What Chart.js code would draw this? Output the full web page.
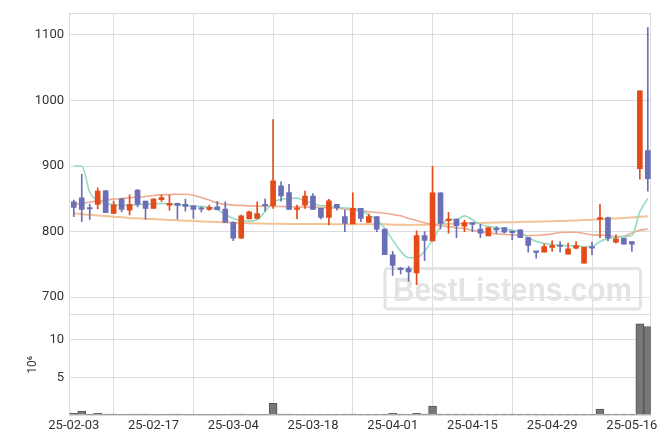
<!DOCTYPE html>
<html><head><meta charset="utf-8">
<script src="https://cdn.jsdelivr.net/npm/chart.js@4/dist/chart.umd.min.js"></script>
<style>html,body{margin:0;padding:0;background:#fff;}#wrap{position:relative;width:670px;height:444px;}</style>
</head><body><div id="wrap"><canvas id="c" width="670" height="444"></canvas></div>
<script>
const dates = [
 '25-02-03','25-02-04','25-02-05','25-02-06','25-02-07','25-02-10','25-02-11','25-02-12','25-02-13','25-02-14',
 '25-02-17','25-02-18','25-02-19','25-02-20','25-02-21','25-02-24','25-02-25','25-02-26','25-02-27','25-02-28',
 '25-03-04','25-03-05','25-03-06','25-03-07','25-03-10','25-03-11','25-03-12','25-03-13','25-03-14','25-03-17',
 '25-03-18','25-03-19','25-03-20','25-03-21','25-03-24','25-03-25','25-03-26','25-03-27','25-03-28','25-03-31',
 '25-04-01','25-04-02','25-04-03','25-04-04','25-04-07','25-04-08','25-04-09','25-04-10','25-04-11','25-04-14',
 '25-04-15','25-04-16','25-04-17','25-04-18','25-04-21','25-04-22','25-04-23','25-04-24','25-04-25','25-04-28',
 '25-04-29','25-04-30','25-05-02','25-05-07','25-05-08','25-05-09','25-05-12','25-05-13','25-05-14','25-05-15',
 '25-05-16','25-05-19','25-05-20'];
const openP = [845.5,851.5,835,841.4,862,827.8,850,832.5,863.3,846.5,
 835.3,848.8,840.4,842.9,841.4,839.4,834.8,833.8,837.7,834.3,
 814.1,789.9,819.2,820.2,840,839.4,869.7,859.6,833.8,840.4,
 854,835.4,821.7,841.4,822.7,811.6,835.4,814.1,822.7,804,
 764.6,742.4,743.4,736.9,793.9,785.9,859.1,816.7,819.2,808.1,
 813.6,804,793.4,805,806.1,800,802.5,790.9,769.2,768.7,
 775.8,778,765.7,774.7,752,775.8,818.7,821.2,783.8,789.9,
 784.8,896,923.7];
const highP = [848,887.4,842,866.7,863,846.5,850.5,856,864,846.5,
 850.5,856,855.6,843.5,849.5,839.4,837.9,840.4,846,845.5,
 815,825.3,831.3,845.5,849.5,970.7,875.8,872.2,840.4,861.6,
 858.1,835.4,849,841.4,832.8,859.1,835.4,826.8,822.7,804,
 769.7,745.5,747,801,800,899.5,859.1,829.3,819.2,817.7,
 813.6,811.1,806.1,807.6,806.1,801,802.5,790.9,769.7,780.8,
 785.9,784.8,782.3,784.8,775.8,783.8,841.4,822.2,795,789.9,
 784.8,1014.6,1111];
const lowP = [822.7,815,818.6,834.4,828.8,827.8,830,825.3,837.5,818.8,
 835.3,846,832.8,819,831.3,820,830,832.3,833.3,814.1,
 786,789.5,819.2,819.2,831,835.4,846.5,833.8,819.2,835.4,
 833.8,819.2,810.1,832.8,800,811.6,815.2,814.1,800,764.6,
 733.3,735.4,724.2,719.2,755.6,785.9,804,797.5,790.9,800,
 800,790.9,793.4,797.5,797.5,787.4,790.9,768.7,759.6,768.7,
 769.7,768.7,765.7,773.7,752,764.6,790.9,785.9,782.3,780.8,
 769.7,879.8,861.6];
const closeP = [836.9,833.8,834.4,861.7,829,840.9,833.8,841.6,841.6,835.3,
 849.5,851.8,842.9,839.9,838.4,833.8,834,836.9,833.3,814.1,
 789.9,824.2,830.3,827.3,839.4,877.3,854.5,833.8,836.4,854,
 833.8,821.7,847,836.4,812.6,835.4,820.2,822.7,803.5,764.6,
 748.5,741.9,738.4,793.9,786.4,859.1,812.6,819.2,809.1,813.6,
 811.1,797.5,806.1,802.5,799,798.5,790.9,778.8,768.2,777.3,
 778.8,777.3,773.7,778.8,775.8,774.7,821.2,789.9,788.9,780.8,
 780.8,1014.6,880.8];
const volumeM = [0.22,0.53,0.12,0.22,0.12,0.12,0.02,0.12,0.12,0.12,
 0.02,0.02,0.12,0.12,0.02,0.02,0.02,0.02,0.02,0.02,
 0.12,0.12,0.02,0.02,0.02,1.55,0.12,0.12,0.02,0.02,
 0.02,0.02,0.02,0.02,0.12,0.12,0.02,0.02,0.02,0.12,
 0.22,0.12,0.02,0.22,0.12,1.19,0.12,0.12,0.12,0.12,
 0.12,0.12,0.02,0.02,0.12,0.12,0.02,0.12,0.02,0.02,
 0.02,0.02,0.02,0.02,0.02,0.02,0.8,0.12,0.02,0.12,
 0.02,12.16,11.8];
const maShort = [900,900,860,847,843,841,840,840,841,842,
 842,843,842,841,840,839,838,837,833.5,826,
 820,817,816,818,831,845,849,850.5,851,847,
 843,839.5,839,837,836,835,833,825,818,805,
 787,770,760,760,770,787,807,819,818,824,
 818,811,808,806,804,802,799,791,785,782,
 780,779,778.5,778,777.3,776.8,784.8,789,791,792.4,
 794,830,850.5];
const maMid = [841.5,843,845,846.5,848,849.5,850.5,851.5,852.5,853.5,
 855,856,856.5,857,857,855.5,852,848,843.5,841.5,
 840.4,839.8,839.2,838.8,838.6,838.4,838.2,838,837.7,837.5,
 837.2,836.9,836.3,835.5,834.5,833,831.5,830.3,829,828,
 826,824,820,817,813.5,811,809,807.5,806,804.5,
 802,800,798,796.5,795.5,795,794.5,794,794,795,
 796.5,798.5,799,799,797,795,794.5,794,792.5,793,
 798,802,804];
const maLong = [828,826.5,825.5,824.5,823.7,822.8,821.8,820.8,820.2,819.6,
 819,818.4,817.8,817.2,816.6,816,815.5,815,814.5,814,
 813.5,813.1,812.8,812.5,812.2,812,811.8,811.6,811.6,811.6,
 811.5,811.5,811.4,811.3,811.2,811.1,811.1,811,811,811,
 810.6,810.3,810.1,810.3,810.6,811,811.3,811.7,812.1,812.5,
 812.9,813.2,813.5,813.8,814.1,814.4,814.7,815,815.2,815.5,
 815.8,816.2,816.6,817,817.5,818,818.7,819.3,820,820.7,
 821.5,822.5,823.5];
const tickIndex = [0,10,20,30,40,50,60,70];
const priceTicks = [700,800,900,1000,1100];
const volumeTicks = [0,5,10];
const volumeTitle = '10\u2076';
const watermark = 'BestListens.com';

const UP = '#e64a19', DOWN = '#6b6fb5', GRID = '#dcdcdc', TXT = '#333333';
const idx = dates.map((d, i) => i);
const isUp = i => closeP[i] >= openP[i];
const font = {family: 'Roboto', size: 13};

const framePlugin = {
  id: 'frame',
  beforeDatasetsDraw(chart) {
    const ctx = chart.ctx, a = chart.chartArea;
    const yP = chart.scales.yPrice;
    ctx.save();
    ctx.strokeStyle = '#e4e4e4'; ctx.lineWidth = 3;
    ctx.beginPath();
    ctx.roundRect(385, 268.5, 255.5, 40.5, 3);
    ctx.stroke();
    ctx.font = 'bold 34px "Liberation Sans"';
    const w = ctx.measureText(watermark).width;
    ctx.fillStyle = '#e4e4e4';
    ctx.textBaseline = 'alphabetic';
    ctx.translate(393, 300.5);
    ctx.scale(239 / w, 1);
    ctx.fillText(watermark, 0, 0);
    ctx.restore();
    ctx.save();
    ctx.strokeStyle = GRID; ctx.lineWidth = 1;
    ctx.strokeRect(Math.round(a.left) + 0.5, Math.round(a.top) + 0.5, Math.round(a.right - a.left) - 1, Math.round(a.bottom - a.top) - 1);
    ctx.beginPath();
    ctx.moveTo(a.left, Math.round(yP.bottom) + 0.5);
    ctx.lineTo(a.right, Math.round(yP.bottom) + 0.5);
    ctx.stroke();
    ctx.restore();
  }
};

new Chart(document.getElementById('c'), {
  type: 'bar',
  data: {
    datasets: [
      { type: 'bar', label: 'body', yAxisID: 'yPrice', grouped: false,
        data: idx.map(i => ({x: i, y: [openP[i], closeP[i]]})),
        backgroundColor: c => isUp(c.dataIndex) ? UP : DOWN,
        barThickness: 5, minBarLength: 1.5, borderWidth: 0 },
      { type: 'bar', label: 'wick', yAxisID: 'yPrice', grouped: false,
        data: idx.map(i => ({x: i, y: [lowP[i], highP[i]]})),
        backgroundColor: c => isUp(c.dataIndex) ? UP : DOWN,
        barThickness: 1, borderWidth: 0 },
      { type: 'line', label: 'MA short', yAxisID: 'yPrice',
        data: idx.map(i => ({x: i, y: maShort[i]})),
        borderColor: '#95dbc2', borderWidth: 1.6, pointRadius: 0, cubicInterpolationMode: 'monotone' },
      { type: 'line', label: 'MA mid', yAxisID: 'yPrice',
        data: idx.map(i => ({x: i, y: maMid[i]})),
        borderColor: '#efab92', borderWidth: 1.6, pointRadius: 0, cubicInterpolationMode: 'monotone' },
      { type: 'line', label: 'MA long', yAxisID: 'yPrice',
        data: idx.map(i => ({x: i, y: maLong[i]})),
        borderColor: '#f1c396', borderWidth: 2, pointRadius: 0, cubicInterpolationMode: 'monotone' },
      { type: 'bar', label: 'volume', yAxisID: 'yVol', grouped: false,
        data: idx.map(i => ({x: i, y: volumeM[i]})),
        backgroundColor: '#777777', borderColor: '#555555', borderWidth: 1,
        barPercentage: 1, categoryPercentage: 1 }
    ]
  },
  options: {
    responsive: false, animation: false, devicePixelRatio: 1,
    layout: {padding: {left: 5, top: 9, right: 19, bottom: 0}},
    plugins: {legend: {display: false}, tooltip: {enabled: false}},
    scales: {
      x: { type: 'linear', min: -0.6, max: 72.4, offset: false,
        grid: {color: GRID, drawTicks: false}, border: {display: false},
        afterBuildTicks: s => { s.ticks = tickIndex.map(v => ({value: v})); },
        afterFit: s => { s.height = 29; },
        ticks: {autoSkip: false, maxRotation: 0, padding: 3, font, color: TXT,
          callback: v => dates[v] } },
      yVol: { type: 'linear', position: 'left', stack: 'main', stackWeight: 1,
        min: 0, max: 13.4,
        grid: {color: GRID, drawTicks: false}, border: {display: false},
        afterBuildTicks: s => { s.ticks = volumeTicks.map(v => ({value: v})); },
        afterFit: s => { s.width = 64; },
        title: {display: true, text: volumeTitle, font: {family: 'Roboto', size: 12}, color: TXT, padding: {top: 21, bottom: 0}},
        ticks: {autoSkip: false, padding: 5, font, color: TXT, callback: v => v === 0 ? '' : String(v) } },
      yPrice: { type: 'linear', position: 'left', stack: 'main', stackWeight: 3,
        min: 673.6, max: 1133.7,
        grid: {color: GRID, drawTicks: false}, border: {display: false},
        afterBuildTicks: s => { s.ticks = priceTicks.map(v => ({value: v})); },
        afterFit: s => { s.width = 64; },
        ticks: {autoSkip: false, padding: 5, font, color: TXT, callback: v => String(v)} }
    }
  },
  plugins: [framePlugin]
});
</script></body></html>
